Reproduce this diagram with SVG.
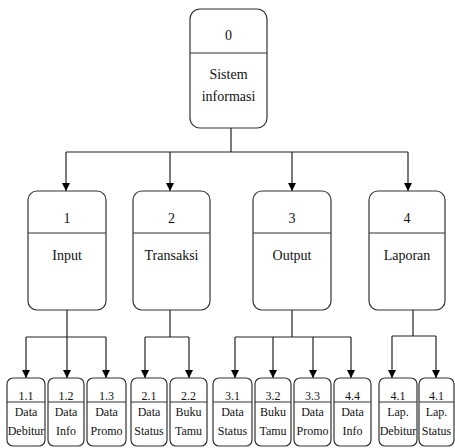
<svg xmlns="http://www.w3.org/2000/svg" width="455" height="448" viewBox="0 0 455 448">
<defs>
<marker id="ah" viewBox="0 0 10 10" refX="10" refY="5" markerWidth="8" markerHeight="8" markerUnits="userSpaceOnUse" orient="auto">
<path d="M0,0 L10,5 L0,10 Z" fill="#000"/>
</marker>
<style>
.box{fill:#fff;stroke:#333;stroke-width:1.2}
.div{stroke:#333;stroke-width:1.2}
.ln{fill:none;stroke:#222;stroke-width:1.2}
.ar{fill:none;stroke:#222;stroke-width:1.2;marker-end:url(#ah)}
text{font-family:"Liberation Serif","DejaVu Serif",serif;fill:#111;text-anchor:middle}
.t1{font-size:14px}
.t2{font-size:12px}
</style>
</defs>
<rect width="455" height="448" fill="#fff"/>
<g id="connectors">
<path class="ln" d="M231,128 V152 M66,152 H408"/>
<path class="ar" d="M66,152 V191"/>
<path class="ar" d="M170,152 V191"/>
<path class="ar" d="M292,152 V191"/>
<path class="ar" d="M408,152 V191"/>
<path class="ln" d="M67,310 V337 M26,337 H106"/>
<path class="ar" d="M26,337 V378"/>
<path class="ar" d="M67,337 V378"/>
<path class="ar" d="M106,337 V378"/>
<path class="ln" d="M170,310 V337 M145,337 H189"/>
<path class="ar" d="M145,337 V378"/>
<path class="ar" d="M189,337 V378"/>
<path class="ln" d="M292,310 V337 M235,337 H351"/>
<path class="ar" d="M235,337 V378"/>
<path class="ar" d="M273,337 V378"/>
<path class="ar" d="M313,337 V378"/>
<path class="ar" d="M351,337 V378"/>
<path class="ln" d="M413,310 V336 M392,336 H436"/>
<path class="ar" d="M392,336 V378"/>
<path class="ar" d="M436,336 V378"/>
</g>
<g id="n0">
<rect class="box" x="190" y="9" width="77" height="119" rx="10"/>
<line class="div" x1="190" y1="53" x2="267" y2="53"/>
<text class="t1" x="228.5" y="40">0</text>
<text class="t1" x="228.5" y="79">Sistem</text>
<text class="t1" x="228.5" y="101">informasi</text>
</g>
<g id="n1">
<rect class="box" x="28" y="191" width="78" height="119" rx="9"/>
<line class="div" x1="28" y1="233" x2="106" y2="233"/>
<text class="t1" x="67" y="223">1</text>
<text class="t1" x="67" y="260">Input</text>
</g>
<g id="n2">
<rect class="box" x="133" y="191" width="77" height="119" rx="9"/>
<line class="div" x1="133" y1="233" x2="210" y2="233"/>
<text class="t1" x="171.5" y="223">2</text>
<text class="t1" x="171.5" y="260">Transaksi</text>
</g>
<g id="n3">
<rect class="box" x="253" y="191" width="78" height="119" rx="9"/>
<line class="div" x1="253" y1="233" x2="331" y2="233"/>
<text class="t1" x="292" y="223">3</text>
<text class="t1" x="292" y="260">Output</text>
</g>
<g id="n4">
<rect class="box" x="369" y="191" width="76" height="119" rx="9"/>
<line class="div" x1="369" y1="233" x2="445" y2="233"/>
<text class="t1" x="407" y="223">4</text>
<text class="t1" x="407" y="260">Laporan</text>
</g>
<g id="n1_1">
<rect class="box" x="7" y="378" width="38" height="68" rx="6"/>
<line class="div" x1="7" y1="402" x2="45" y2="402"/>
<text class="t2" x="26" y="400">1.1</text>
<text class="t2" x="26" y="416">Data</text>
<text class="t2" x="26" y="435">Debitur</text>
</g>
<g id="n1_2">
<rect class="box" x="48" y="378" width="36" height="68" rx="6"/>
<line class="div" x1="48" y1="402" x2="84" y2="402"/>
<text class="t2" x="66" y="400">1.2</text>
<text class="t2" x="66" y="416">Data</text>
<text class="t2" x="66" y="435">Info</text>
</g>
<g id="n1_3">
<rect class="box" x="87" y="378" width="39" height="68" rx="6"/>
<line class="div" x1="87" y1="402" x2="126" y2="402"/>
<text class="t2" x="106.5" y="400">1.3</text>
<text class="t2" x="106.5" y="416">Data</text>
<text class="t2" x="106.5" y="435">Promo</text>
</g>
<g id="n2_1">
<rect class="box" x="131" y="378" width="36" height="68" rx="6"/>
<line class="div" x1="131" y1="402" x2="167" y2="402"/>
<text class="t2" x="149" y="400">2.1</text>
<text class="t2" x="149" y="416">Data</text>
<text class="t2" x="149" y="435">Status</text>
</g>
<g id="n2_2">
<rect class="box" x="170" y="378" width="37" height="68" rx="6"/>
<line class="div" x1="170" y1="402" x2="207" y2="402"/>
<text class="t2" x="188.5" y="400">2.2</text>
<text class="t2" x="188.5" y="416">Buku</text>
<text class="t2" x="188.5" y="435">Tamu</text>
</g>
<g id="n3_1">
<rect class="box" x="213" y="378" width="39" height="68" rx="6"/>
<line class="div" x1="213" y1="402" x2="252" y2="402"/>
<text class="t2" x="232.5" y="400">3.1</text>
<text class="t2" x="232.5" y="416">Data</text>
<text class="t2" x="232.5" y="435">Status</text>
</g>
<g id="n3_2">
<rect class="box" x="255" y="378" width="36" height="68" rx="6"/>
<line class="div" x1="255" y1="402" x2="291" y2="402"/>
<text class="t2" x="273" y="400">3.2</text>
<text class="t2" x="273" y="416">Buku</text>
<text class="t2" x="273" y="435">Tamu</text>
</g>
<g id="n3_3">
<rect class="box" x="294" y="378" width="37" height="68" rx="6"/>
<line class="div" x1="294" y1="402" x2="331" y2="402"/>
<text class="t2" x="312.5" y="400">3.3</text>
<text class="t2" x="312.5" y="416">Data</text>
<text class="t2" x="312.5" y="435">Promo</text>
</g>
<g id="n4_4">
<rect class="box" x="334" y="378" width="37" height="68" rx="6"/>
<line class="div" x1="334" y1="402" x2="371" y2="402"/>
<text class="t2" x="352.5" y="400">4.4</text>
<text class="t2" x="352.5" y="416">Data</text>
<text class="t2" x="352.5" y="435">Info</text>
</g>
<g id="n4_1a">
<rect class="box" x="379" y="378" width="38" height="68" rx="6"/>
<line class="div" x1="379" y1="402" x2="417" y2="402"/>
<text class="t2" x="398" y="400">4.1</text>
<text class="t2" x="398" y="416">Lap.</text>
<text class="t2" x="398" y="435">Debitur</text>
</g>
<g id="n4_1b">
<rect class="box" x="419" y="378" width="35" height="68" rx="6"/>
<line class="div" x1="419" y1="402" x2="454" y2="402"/>
<text class="t2" x="436.5" y="400">4.1</text>
<text class="t2" x="436.5" y="416">Lap.</text>
<text class="t2" x="436.5" y="435">Status</text>
</g>
</svg>
